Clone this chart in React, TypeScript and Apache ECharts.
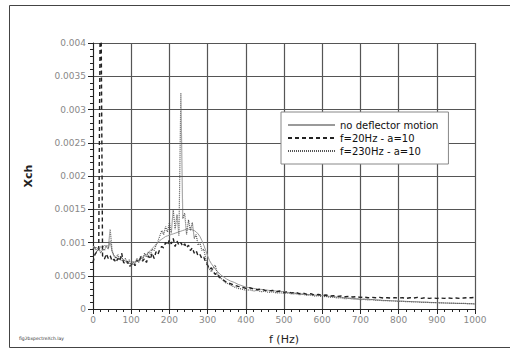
import React, { useEffect, useRef } from "react";
import * as echarts from "echarts";

// Xch amplitude spectra, values in units of 1e-4
const SCALE = 1e-4;

const FREQ_LOW = [
  0, 5, 10, 15, 20, 25, 30, 35, 40, 45, 50, 55, 60, 65, 70, 75, 80, 85, 90, 95,
  100, 105, 110, 115, 120, 125, 130, 135, 140, 145, 150, 155, 160, 165, 170, 175,
  180, 185, 190, 195, 200, 205, 210, 215, 220, 225, 230, 235, 240, 245, 250, 255,
  260, 265, 270, 275, 280, 285, 290, 295, 300, 305, 310, 315, 320, 325, 330, 335,
  340, 345, 350,
];
const FREQ_HIGH = [
  360, 370, 380, 390, 400, 410, 420, 430, 440, 450, 460, 470, 480, 490, 500, 510,
  520, 530, 540, 550, 560, 570, 580, 590, 600, 610, 620, 630, 640, 650, 660, 670,
  680, 690, 700, 710, 720, 730, 740, 750, 760, 770, 780, 790, 800, 810, 820, 830,
  840, 850, 860, 870, 880, 890, 900, 910, 920, 930, 940, 950, 960, 970, 980, 990,
  1000,
];

const NO_MOTION_LOW = [
  9.5, 9.0, 9.3, 8.8, 9.4, 9.2, 9.6, 9.3, 9.0, 10.2, 8.6, 8.0, 7.8, 7.6, 7.5, 7.3,
  7.4, 7.1, 7.0, 6.9, 6.8, 6.9, 7.1, 7.2, 7.4, 7.6, 7.8, 8.0, 8.2, 8.5, 8.8, 9.1,
  9.4, 9.7, 10.0, 10.3, 10.5, 10.7, 10.9, 11.0, 11.1, 11.2, 11.3, 11.4, 11.5, 11.6,
  11.7, 11.8, 11.9, 12.0, 12.0, 12.0, 11.9, 11.8, 11.6, 11.3, 10.9, 10.3, 9.6, 8.8,
  8.0, 7.3, 6.8, 6.4, 6.0, 5.7, 5.4, 5.1, 4.9, 4.7, 4.5,
];
const NO_MOTION_HIGH = [
  4.2, 4.0, 3.7, 3.5, 3.3, 3.2, 3.1, 3.0, 2.95, 2.9, 2.8, 2.75, 2.7, 2.65, 2.6, 2.5,
  2.45, 2.4, 2.3, 2.25, 2.2, 2.15, 2.1, 2.05, 2.0, 1.95, 1.9, 1.85, 1.8, 1.75, 1.7,
  1.65, 1.6, 1.55, 1.5, 1.48, 1.45, 1.42, 1.4, 1.35, 1.3, 1.28, 1.25, 1.22, 1.2, 1.18,
  1.15, 1.12, 1.1, 1.08, 1.05, 1.03, 1.0, 0.98, 0.95, 0.93, 0.9, 0.88, 0.86, 0.85,
  0.83, 0.82, 0.8, 0.78, 0.75,
];

const F20_LOW = [
  7.0, 8.2, 8.6, 9.0, 55.0, 8.0, 7.5, 8.3, 7.6, 8.0, 7.2, 7.5, 7.0, 7.6, 7.2, 8.4,
  7.0, 6.8, 7.2, 6.4, 6.6, 7.0, 6.5, 7.4, 7.0, 7.8, 7.2, 7.6, 7.0, 8.0, 7.5, 8.4,
  7.6, 8.6, 8.2, 9.0, 9.4, 9.2, 10.0, 9.6, 10.4, 9.8, 10.6, 9.4, 10.2, 9.6, 10.0,
  9.4, 9.8, 9.2, 9.6, 8.8, 9.2, 8.4, 8.8, 8.0, 8.2, 7.6, 7.8, 7.0, 6.6, 6.0, 6.2,
  5.6, 5.2, 5.4, 4.8, 4.6, 4.4, 4.2, 4.0,
];
const F20_HIGH = [
  3.8, 3.6, 3.4, 3.3, 3.1, 3.2, 3.0, 2.9, 3.0, 2.8, 2.7, 2.8, 2.6, 2.7, 2.5, 2.6,
  2.4, 2.5, 2.3, 2.4, 2.2, 2.3, 2.1, 2.2, 2.05, 2.1, 1.95, 2.0, 1.9, 1.95, 1.85, 1.9,
  1.8, 1.85, 1.75, 1.8, 1.7, 1.75, 1.7, 1.75, 1.65, 1.7, 1.65, 1.7, 1.65, 1.7, 1.6,
  1.7, 1.65, 1.75, 1.6, 1.7, 1.6, 1.65, 1.6, 1.65, 1.6, 1.65, 1.6, 1.65, 1.6, 1.65,
  1.7, 1.7, 1.75,
];

const F230_LOW = [
  9.0, 9.4, 8.6, 9.2, 8.4, 9.0, 8.8, 9.6, 9.2, 12.0, 8.8, 8.0, 7.6, 8.2, 7.4, 7.8,
  7.2, 7.6, 6.8, 7.4, 6.4, 7.2, 6.8, 7.6, 7.0, 8.0, 7.4, 8.4, 7.8, 8.6, 8.2, 9.0,
  8.8, 9.6, 10.2, 11.0, 11.8, 11.2, 12.4, 11.6, 13.0, 11.4, 15.0, 12.0, 14.2, 11.0,
  32.5, 13.6, 14.4, 11.2, 13.4, 11.8, 13.0, 10.6, 11.2, 9.6, 10.0, 8.8, 9.0, 7.6,
  6.4, 6.0, 5.6, 6.2, 6.6, 5.4, 5.0, 4.6, 4.4, 4.0, 3.9,
];
const F230_HIGH = [
  3.6, 3.3, 3.1, 3.0, 2.8, 2.9, 2.7, 2.8, 2.6, 2.65, 2.5, 2.6, 2.4, 2.45, 2.35, 2.4,
  2.25, 2.3, 2.15, 2.2, 2.05, 2.1, 1.95, 2.0, 1.85, 1.9, 1.75, 1.8, 1.65, 1.7, 1.55,
  1.6, 1.5, 1.5, 1.4, 1.45, 1.35, 1.4, 1.3, 1.3, 1.25, 1.25, 1.2, 1.2, 1.15, 1.15,
  1.1, 1.1, 1.05, 1.05, 1.0, 1.0, 0.98, 0.95, 0.95, 0.92, 0.9, 0.9, 0.88, 0.86,
  0.85, 0.84, 0.82, 0.8, 0.78,
];

const SERIES_NAMES = ["no deflector motion", "f=20Hz - a=10", "f=230Hz - a=10"];

const FREQ = [...FREQ_LOW, ...FREQ_HIGH];
const pairs = (low: number[], high: number[]) =>
  [...low, ...high].map((v, i) => [FREQ[i], v * SCALE]);

const FONT = "'DejaVu Sans', 'Liberation Sans', sans-serif";

export default function App() {
  const ref = useRef<HTMLDivElement>(null);

  useEffect(() => {
    if (!ref.current) return;
    const chart = echarts.init(ref.current, undefined, { renderer: "svg" });
    chart.setOption({
      animation: false,
      backgroundColor: "#ffffff",
      grid: { left: 93, right: 35, top: 43, bottom: 41 },
      xAxis: {
        type: "value",
        min: 0,
        max: 1000,
        interval: 100,
        name: "f (Hz)",
        nameLocation: "middle",
        nameGap: 25,
        nameTextStyle: { fontFamily: FONT, fontSize: 11, color: "#222" },
        axisLine: { lineStyle: { color: "#222", width: 1 } },
        axisTick: { length: 5, lineStyle: { color: "#222" } },
        minorTick: { show: true, splitNumber: 5, length: 3, lineStyle: { color: "#222" } },
        axisLabel: {
          fontFamily: FONT,
          fontSize: 9,
          color: "#888",
          margin: 6,
          formatter: (v: number) => String(v),
        },
        splitLine: { lineStyle: { color: "#555", width: 1.2 } },
      },
      yAxis: {
        type: "value",
        min: 0,
        max: 0.004,
        interval: 0.0005,
        name: "Xch",
        nameLocation: "middle",
        nameGap: 59,
        nameRotate: 90,
        nameTextStyle: { fontFamily: FONT, fontSize: 11, fontWeight: "bold", color: "#222" },
        axisLine: { show: true, lineStyle: { color: "#222", width: 1 } },
        axisTick: { show: true, length: 5, lineStyle: { color: "#222" } },
        minorTick: { show: true, splitNumber: 5, length: 3, lineStyle: { color: "#222" } },
        axisLabel: { fontFamily: FONT, fontSize: 9, color: "#888", margin: 7 },
        splitLine: { lineStyle: { color: "#555", width: 1.2 } },
      },
      legend: {
        orient: "vertical",
        left: 281,
        top: 112,
        width: 150,
        padding: [8, 10, 8, 6],
        itemGap: 3,
        itemWidth: 47,
        itemHeight: 9,
        itemStyle: { opacity: 0 },
        backgroundColor: "#ffffff",
        borderColor: "#888",
        borderWidth: 1,
        textStyle: { fontFamily: FONT, fontSize: 10, color: "#111" },
        data: SERIES_NAMES,
      },
      series: [
        {
          name: SERIES_NAMES[0],
          type: "line",
          symbol: "none",
          data: pairs(NO_MOTION_LOW, NO_MOTION_HIGH),
          lineStyle: { color: "#9a9a9a", width: 1, type: "solid" },
          itemStyle: { color: "#9a9a9a" },
          z: 3,
        },
        {
          name: SERIES_NAMES[1],
          type: "line",
          symbol: "none",
          data: pairs(F20_LOW, F20_HIGH),
          lineStyle: { color: "#222", width: 1.4, type: [4, 3] },
          itemStyle: { color: "#222" },
          z: 4,
        },
        {
          name: SERIES_NAMES[2],
          type: "line",
          symbol: "none",
          data: pairs(F230_LOW, F230_HIGH),
          lineStyle: { color: "#555", width: 1.2, type: [1, 1] },
          itemStyle: { color: "#555" },
          z: 5,
        },
      ],
      graphic: [
        {
          type: "rect",
          shape: { x: 9.5, y: 5.5, width: 520, height: 342 },
          style: { fill: "none", stroke: "#444", lineWidth: 1 },
          silent: true,
          z: -1,
        },
        {
          type: "text",
          left: 19,
          top: 336,
          style: { text: "fig2bxpectreXch.lay", fontFamily: FONT, fontSize: 4.5, fill: "#333" },
          silent: true,
        },
      ],
    });
    return () => chart.dispose();
  }, []);

  return (
    <div
      ref={ref}
      style={{ position: "fixed", left: 0, top: 0, width: 510, height: 350 }}
    />
  );
}
